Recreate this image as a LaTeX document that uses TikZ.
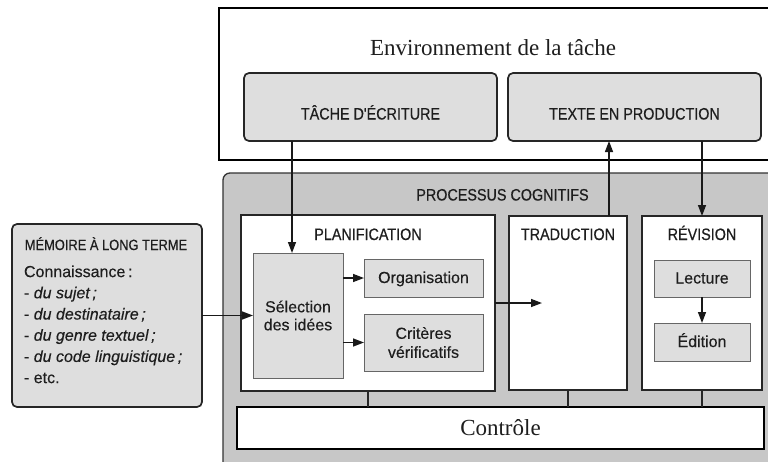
\documentclass[tikz,border=0pt]{standalone}
\usepackage{fontspec}
\setmainfont{Liberation Sans}[FakeBold=0.3]
\newfontfamily\serifF{Liberation Serif}
\newfontfamily\condF[FakeStretch=0.87,FakeBold=0.5]{Liberation Sans}
\usetikzlibrary{arrows.meta}
\definecolor{procgray}{HTML}{C7C7C7}
\definecolor{boxgray}{HTML}{DEDEDE}
\definecolor{txt}{HTML}{1E1E1E}
\newcommand\mybody{\fontsize{16}{21.2}\selectfont}
\begin{document}
\begin{tikzpicture}[x=1pt,y=-1pt,
  every node/.style={inner sep=0pt,outer sep=0pt,text=txt},
  envbox/.style={draw=black,line width=1.8pt,fill=white},
  taskbox/.style={draw=black!85,line width=1.7pt,fill=boxgray,rounded corners=5pt},
  procbox/.style={draw=black!80,line width=1.3pt,fill=procgray,rounded corners=7pt},
  subbox/.style={draw=black!85,line width=1.6pt,fill=white},
  smallbox/.style={draw=black!60,line width=1pt,fill=boxgray,font=\mybody},
  ctrlbox/.style={draw=black,line width=2pt,fill=white,font=\serifF\fontsize{23}{26}\selectfont,text height=15pt,text depth=0pt},
  membox/.style={draw=black!85,line width=1.7pt,fill=boxgray,rounded corners=5pt},
  head/.style={font=\condF\fontsize{16.5}{19}\selectfont,anchor=base},
  serifhead/.style={font=\serifF\fontsize{23}{26}\selectfont,anchor=base},
  arr/.style={line width=1.4pt,draw=black!90,-{Triangle[length=11pt,width=8pt]}},
  link/.style={line width=1.2pt,draw=black!85},
  box/.style={anchor=north west}
]
\clip (0,0) rectangle (768,461);
\fill[white] (0,0) rectangle (768,461);

% task environment
\node[envbox,box,minimum width=571pt,minimum height=152pt] (env) at (219,8) {};
\node[serifhead] (envlabel) at (493,55.5) {Environnement de la tâche};
\node[taskbox,box,minimum width=253pt,minimum height=68pt] (tache) at (244,73) {};
\node[taskbox,box,minimum width=253pt,minimum height=68pt] (texte) at (508,73) {};
\node[head] (tachelabel) at (370.5,119.5) {TÂCHE D'ÉCRITURE};
\node[head] (textelabel) at (634.5,119.5) {TEXTE EN PRODUCTION};

% cognitive processes
\node[procbox,box,minimum width=567pt,minimum height=307pt] (proc) at (223,173) {};
\node[head] (proclabel) at (502.5,200.5) {PROCESSUS COGNITIFS};
\node[subbox,box,minimum width=254pt,minimum height=176pt] (plan) at (241,215) {};
\node[subbox,box,minimum width=118pt,minimum height=174pt] (trad) at (509,216) {};
\node[subbox,box,minimum width=120pt,minimum height=174pt] (rev) at (642,216) {};
\node[head] (planlabel) at (368,240) {PLANIFICATION};
\node[head] (tradlabel) at (568,240) {TRADUCTION};
\node[head] (revlabel) at (702,240) {RÉVISION};

\node[smallbox,box,minimum width=90pt,minimum height=125pt,align=center,
      font=\fontsize{16}{18}\selectfont] (sel) at (253,253) {Sélection\\des idées};
\node[smallbox,box,minimum width=119pt,minimum height=38pt,text height=11.5pt,text depth=1.5pt] (orga) at (364,259) {Organisation};
\node[smallbox,box,minimum width=119pt,minimum height=57pt,align=center,
      font=\fontsize{16}{19}\selectfont] (crit) at (364,314) {Critères\\vérificatifs};
\node[smallbox,box,minimum width=96pt,minimum height=37pt,text height=11.5pt,text depth=1.5pt] (lect) at (654,260) {Lecture};
\node[smallbox,box,minimum width=96pt,minimum height=38pt,text height=11.5pt,text depth=1.5pt] (edit) at (654,323) {Édition};

\node[ctrlbox,box,minimum width=527pt,minimum height=42pt] (ctrl) at (237,406.5) {Contrôle};

% long-term memory
\node[membox,box,minimum width=190pt,minimum height=183pt] (mem) at (12,224) {};
\node[anchor=base,font=\condF\fontsize{14.8}{17}\selectfont] (memlabel) at (106,250) {MÉMOIRE À LONG TERME};
\node[anchor=north west,align=left,font=\mybody] (memtext) at (24,265.5)
  {Connaissance\,:\\- \textit{du sujet\,;}\\- \textit{du destinataire\,;}\\- \textit{du genre textuel\,;}\\- \textit{du code linguistique\,;}\\- etc.};

% connectors
\coordinate (tradin) at (542,303);
\draw[arr] ([xshift=48pt]tache.south west) -- ([xshift=39pt]sel.north west);
\draw[arr] ([xshift=100pt]trad.north west) -- ([xshift=100pt]trad.north west |- texte.south);
\draw[arr] (rev.north |- texte.south) -- (rev.north);
\draw[arr] (mem.east) -- (mem.east -| sel.west);
\draw[arr] (orga.west -| sel.east) -- (orga.west);
\draw[arr] (crit.west -| sel.east) -- (crit.west);
\draw[arr] (lect.south) -- (edit.north);
\draw[arr] (plan.east) -- (tradin);
\draw[link] (plan.south) -- (plan.south |- ctrl.north);
\draw[link] (trad.south) -- (trad.south |- ctrl.north);
\draw[link] (rev.south) -- (rev.south |- ctrl.north);
\end{tikzpicture}
\end{document}
